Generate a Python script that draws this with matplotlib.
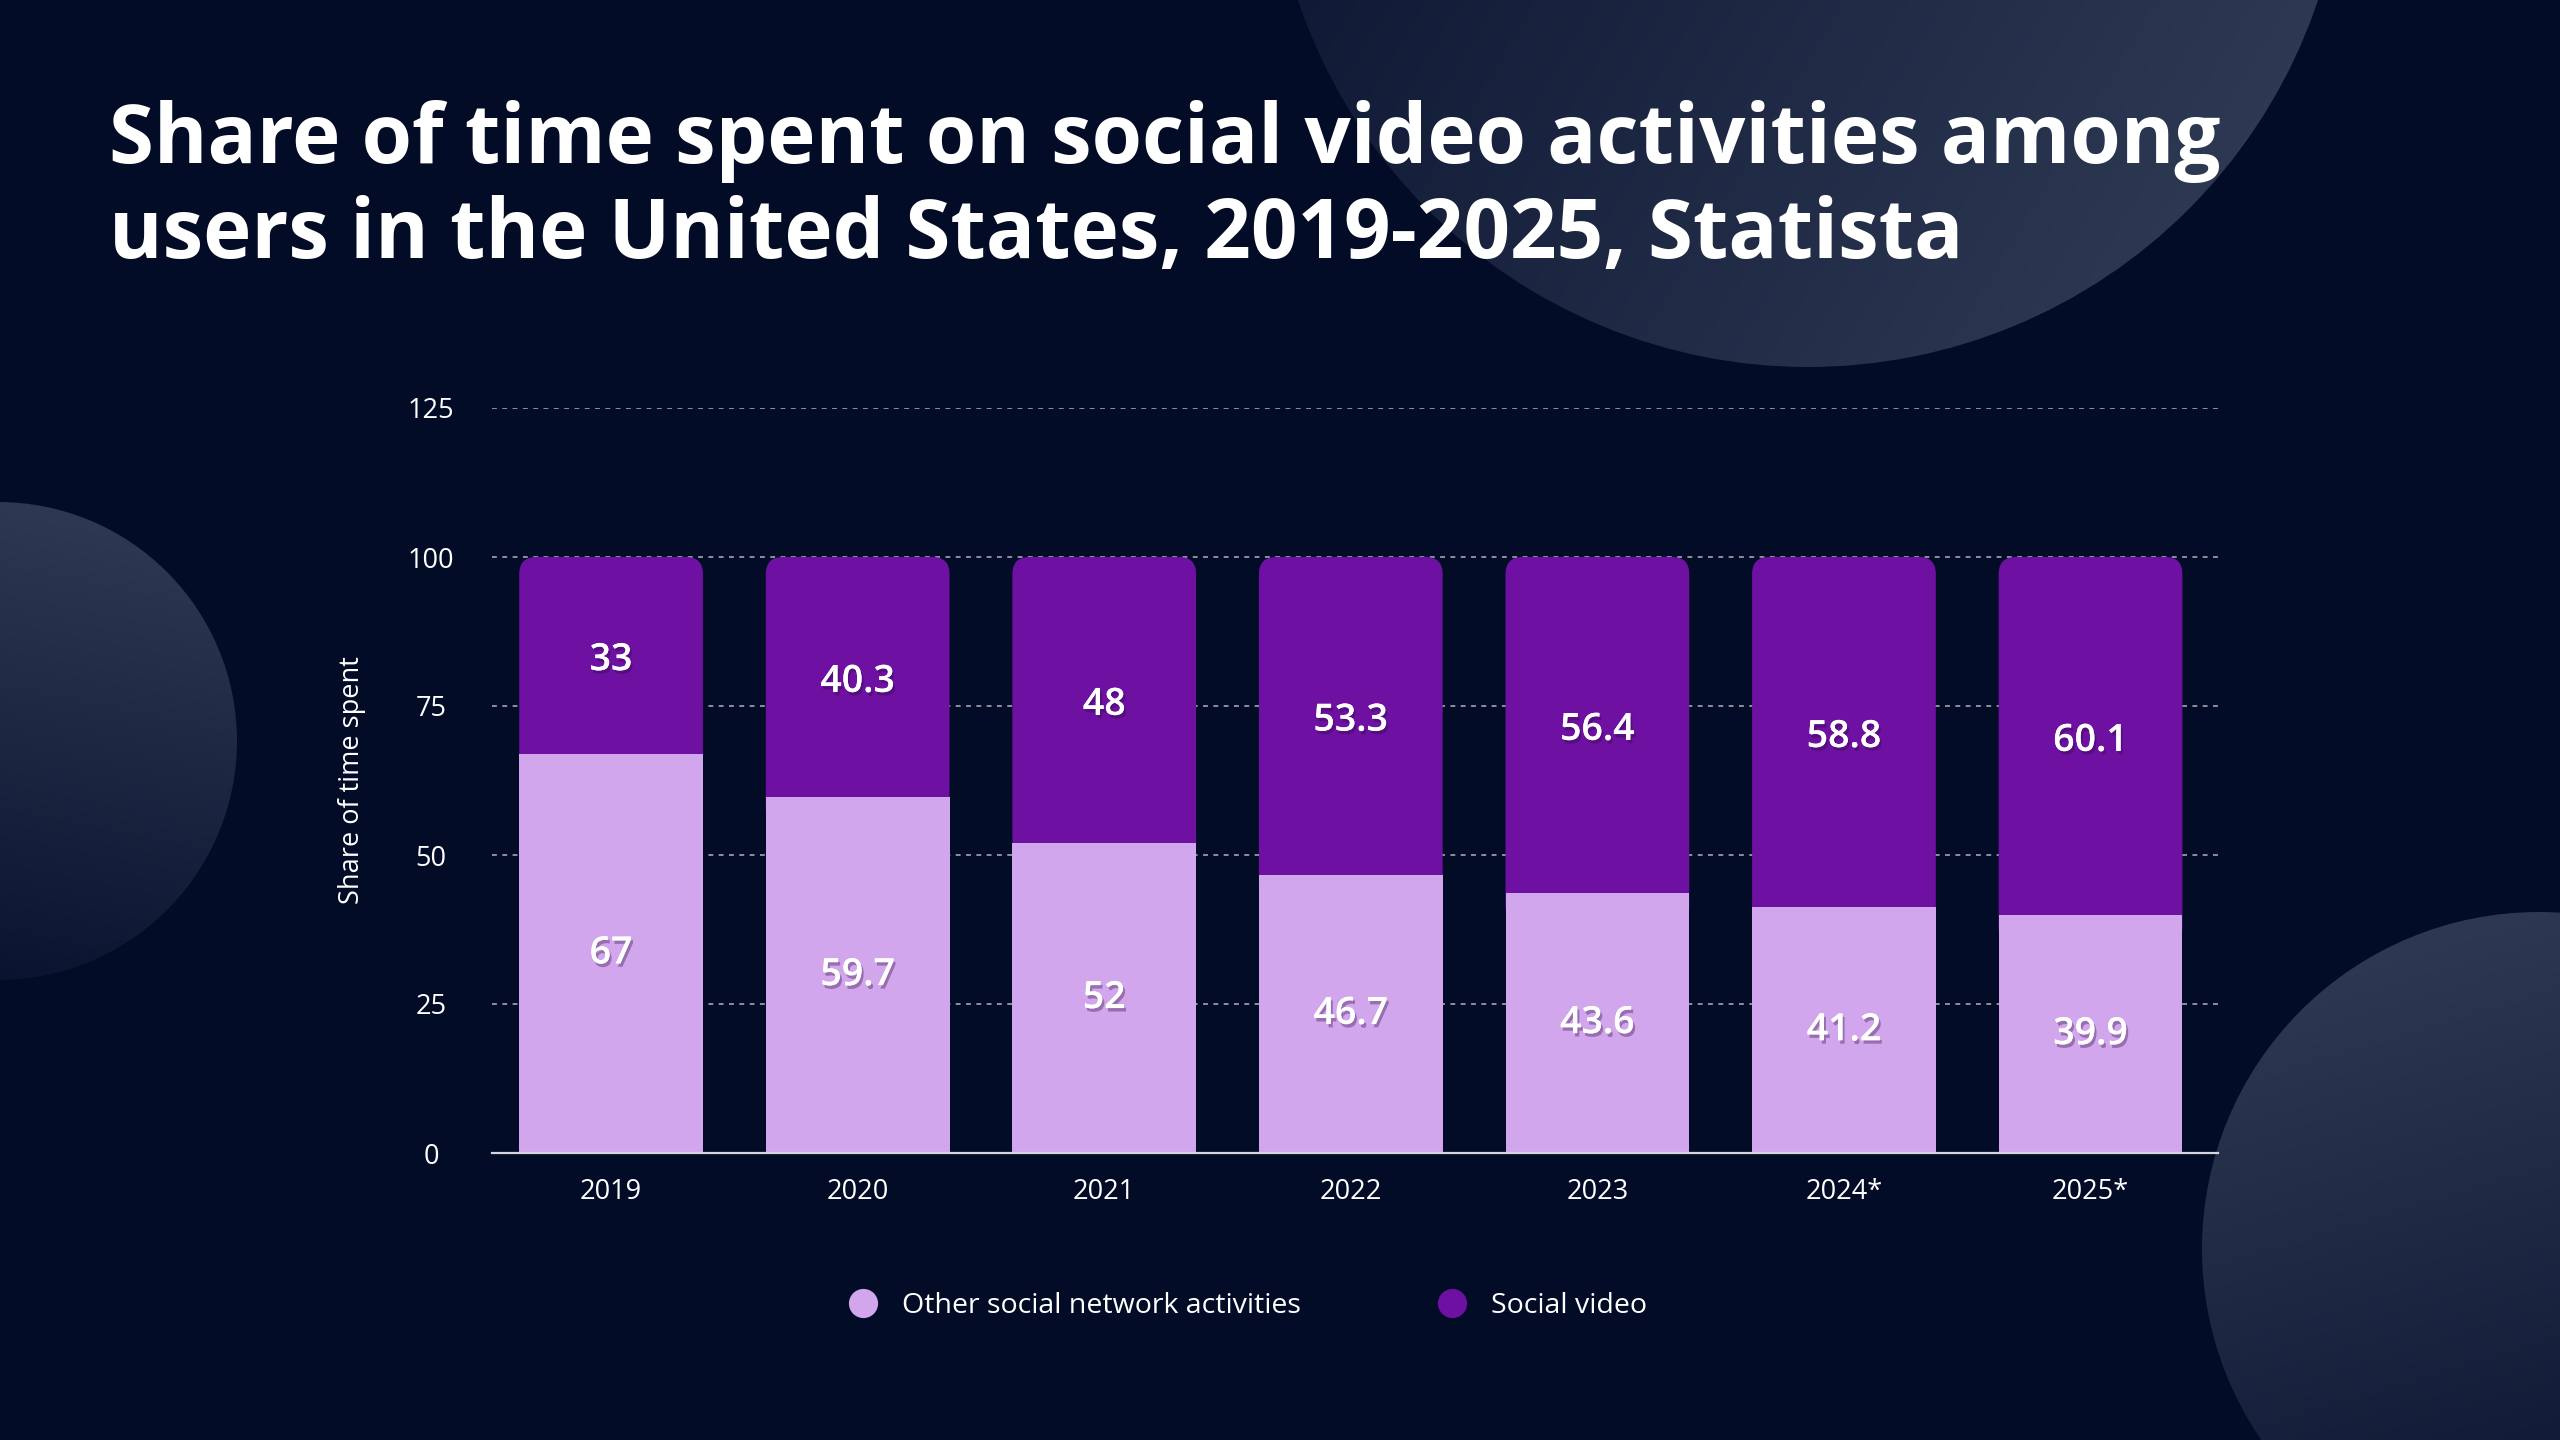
"""
Share of time spent on social video activities among users in the US, 2019-2025.
"""

import numpy as np
import matplotlib
matplotlib.use("Agg")
import matplotlib.pyplot as plt
import matplotlib.patheffects as pe
from matplotlib.patches import Circle, FancyBboxPatch
from matplotlib.lines import Line2D
from matplotlib.colors import LinearSegmentedColormap

# Data
years = ['2019', '2020', '2021', '2022', '2023', '2024*', '2025*']
other_activities = [67, 59.7, 52, 46.7, 43.6, 41.2, 39.9]
social_video = [33, 40.3, 48, 53.3, 56.4, 58.8, 60.1]
y_ticks = [0, 25, 50, 75, 100, 125]

title_lines = ['Share of time spent on social video activities among',
               'users in the United States, 2019-2025, Statista']

# Colors
BG = '#020c27'
LIGHT = '#d2a6ec'
DARK = '#6e11a2'
GRID = '#8b909e'

FONT = 'Open Sans'
plt.rcParams['font.family'] = [FONT, 'DejaVu Sans']

W, H = 2560, 1440
fig = plt.figure(figsize=(W / 100, H / 100), dpi=100)
fig.patch.set_facecolor(BG)

# Background decoration: gradient circles (pixel coordinates)
bg = fig.add_axes([0, 0, 1, 1], zorder=-5)
bg.axis('off')
bg.set_facecolor(BG)

circle_cmap = LinearSegmentedColormap.from_list('circ', ['#0a1430', '#2d3853'])


def gradient_circle(cx, cy, r, direction):
    n = 300
    xs = np.linspace(-1, 1, n)
    gx, gy = np.meshgrid(xs, xs)
    dx, dy = direction
    g = (gx * dx + gy * dy) / np.hypot(dx, dy)
    g = (g + 1) / 2
    img = bg.imshow(g, cmap=circle_cmap, vmin=0, vmax=1,
                    extent=[cx - r, cx + r, cy + r, cy - r],
                    interpolation='bilinear', aspect='auto')
    clip = Circle((cx, cy), r, transform=bg.transData, facecolor='none', edgecolor='none')
    bg.add_patch(clip)
    img.set_clip_path(clip)


gradient_circle(1808, -171, 538, (1, 0.6))     # top: light toward bottom-right
gradient_circle(-2, 741, 239, (0.2, -1))       # left: light on top
gradient_circle(2539, 1249, 337, (-0.3, -1))   # bottom right: light on top
bg.set_xlim(0, W)
bg.set_ylim(H, 0)

# Title
for i, line in enumerate(title_lines):
    fig.text(109 / W, 1 - (163 + 95 * i) / H, line, color='white',
             fontsize=58.8, fontweight='bold', ha='left', va='baseline')

# Main chart
ax = fig.add_axes([492 / W, 1 - 1153 / H, (2218 - 492) / W, (1153 - 408) / H])
ax.set_facecolor('none')

x = np.arange(len(years))
bar_w = 0.745

# rounded top corners (radius about 17 px in both directions)
r_x = 0.069
r_y = 2.85
for xi, base, val in zip(x, other_activities, social_video):
    ext = 5
    box = FancyBboxPatch((xi - bar_w / 2, base - ext), bar_w, val + ext,
                         boxstyle=f'round,pad=0,rounding_size={r_x}',
                         mutation_aspect=r_y / r_x,
                         facecolor=DARK, edgecolor='none', zorder=2)
    ax.add_patch(box)
ax.bar(x, other_activities, width=bar_w, color=LIGHT, zorder=3)

shadow = [pe.withSimplePatchShadow(offset=(1.5, -2.5), shadow_rgbFace='#2a0a40', alpha=0.35),
          pe.Normal()]
for xi, base, val in zip(x, other_activities, social_video):
    ax.text(xi, base / 2, f'{base:g}', color='white', fontsize=27, fontweight='semibold',
            ha='center', va='center', zorder=5, path_effects=shadow)
    ax.text(xi, base + val / 2 - 0.8, f'{val:g}', color='white', fontsize=27,
            fontweight='semibold', ha='center', va='center', zorder=5, path_effects=shadow)

ax.set_xlim(-0.483, 6.517)
ax.set_ylim(0, 125)
ax.set_yticks(y_ticks)
ax.set_xticks(x)
ax.set_xticklabels(years)
ax.tick_params(axis='both', length=0, colors='white', labelsize=19.5)
ax.tick_params(axis='y', pad=44)
ax.tick_params(axis='x', pad=18)
for lbl in ax.get_yticklabels():
    lbl.set_horizontalalignment('center')

ax.yaxis.grid(True, color=GRID, linestyle=(0, (2.5, 2.8)), linewidth=1.4, zorder=0)
ax.set_axisbelow(True)
for side in ['top', 'right', 'left']:
    ax.spines[side].set_visible(False)
ax.spines['bottom'].set_color('#d6d6de')
ax.spines['bottom'].set_linewidth(1.6)
ax.spines['bottom'].set_zorder(4)

fig.text(352 / W, 1 - 780 / H, 'Share of time spent', rotation=90, color='white',
         fontsize=19.5, ha='center', va='center')

# Legend
handles = [Line2D([], [], linestyle='none', marker='o', markersize=21,
                  markerfacecolor=LIGHT, markeredgecolor='none'),
           Line2D([], [], linestyle='none', marker='o', markersize=21,
                  markerfacecolor=DARK, markeredgecolor='none')]
leg = fig.legend(handles, ['Other social network activities', 'Social video'],
                 loc='center left', bbox_to_anchor=(835 / W, 1 - 1306 / H), ncol=2,
                 frameon=False, fontsize=20.5, handlelength=1.0, handletextpad=0.86,
                 columnspacing=4.8, borderpad=0, labelcolor='white')

fig.savefig('out.png', dpi=100, facecolor=BG)
